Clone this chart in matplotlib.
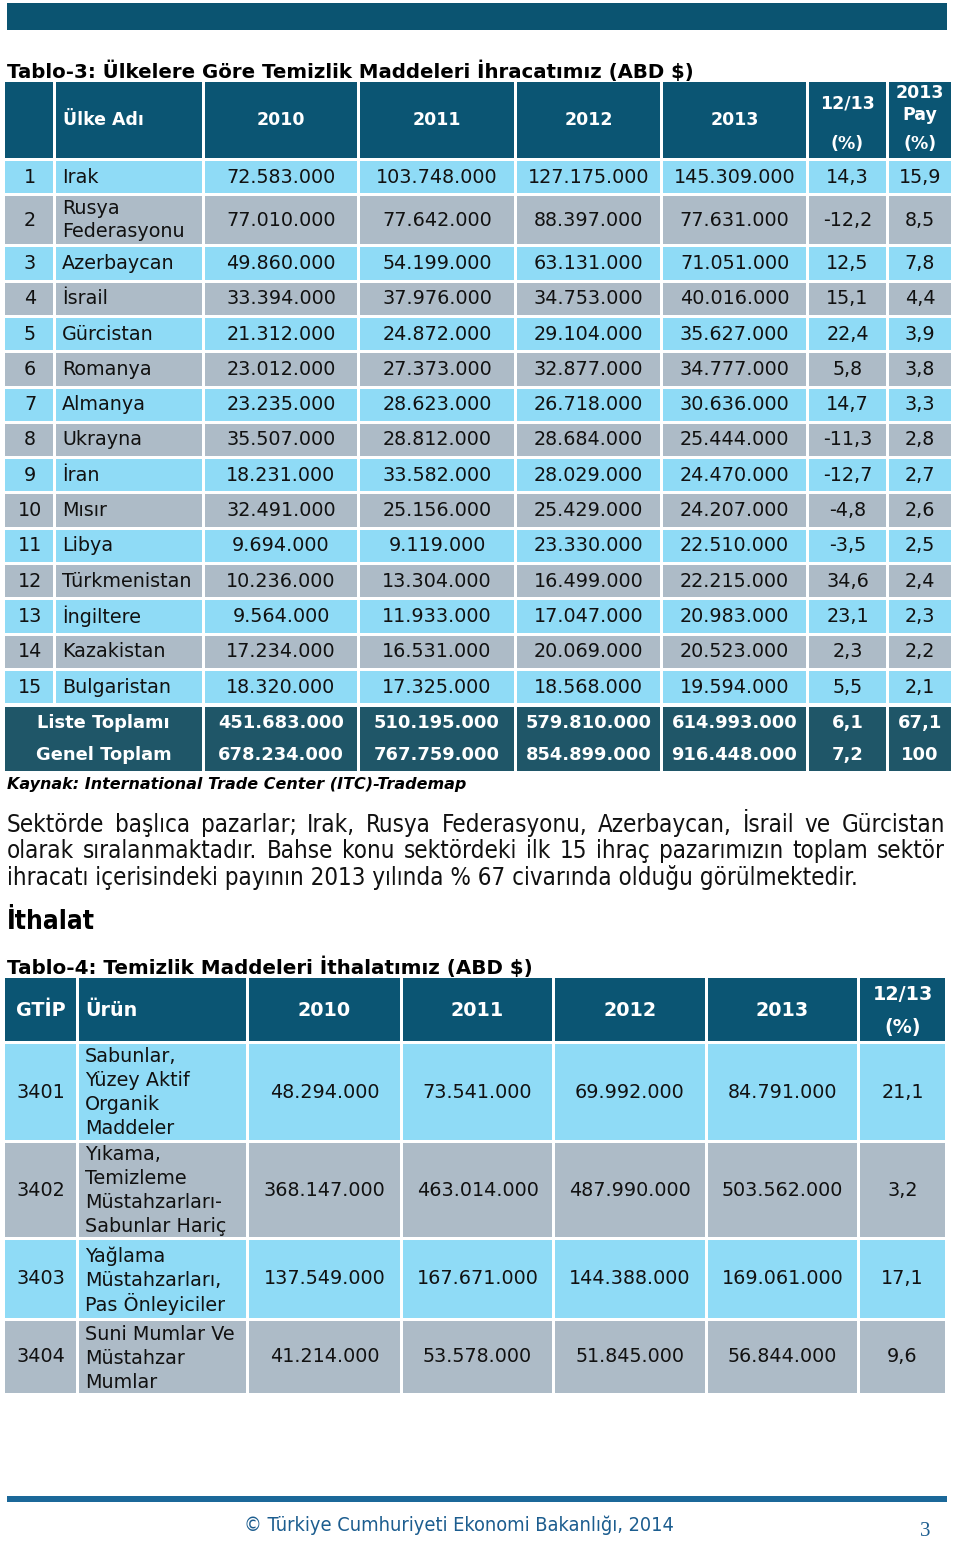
import matplotlib
matplotlib.use("Agg")
import matplotlib.pyplot as plt
from matplotlib import font_manager
from matplotlib.patches import Rectangle

# Tablo-3: ihracat
ranks = list(range(1, 16))
countries = ["Irak", "Rusya\nFederasyonu", "Azerbaycan", "İsrail", "Gürcistan",
             "Romanya", "Almanya", "Ukrayna", "İran", "Mısır", "Libya",
             "Türkmenistan", "İngiltere", "Kazakistan", "Bulgaristan"]
exp_2010 = [72583000, 77010000, 49860000, 33394000, 21312000, 23012000, 23235000,
            35507000, 18231000, 32491000, 9694000, 10236000, 9564000, 17234000, 18320000]
exp_2011 = [103748000, 77642000, 54199000, 37976000, 24872000, 27373000, 28623000,
            28812000, 33582000, 25156000, 9119000, 13304000, 11933000, 16531000, 17325000]
exp_2012 = [127175000, 88397000, 63131000, 34753000, 29104000, 32877000, 26718000,
            28684000, 28029000, 25429000, 23330000, 16499000, 17047000, 20069000, 18568000]
exp_2013 = [145309000, 77631000, 71051000, 40016000, 35627000, 34777000, 30636000,
            25444000, 24470000, 24207000, 22510000, 22215000, 20983000, 20523000, 19594000]
exp_change = [14.3, -12.2, 12.5, 15.1, 22.4, 5.8, 14.7, -11.3, -12.7, -4.8, -3.5, 34.6, 23.1, 2.3, 5.5]
exp_share = [15.9, 8.5, 7.8, 4.4, 3.9, 3.8, 3.3, 2.8, 2.7, 2.6, 2.5, 2.4, 2.3, 2.2, 2.1]

total_labels = ["Liste Toplamı", "Genel Toplam"]
total_2010 = [451683000, 678234000]
total_2011 = [510195000, 767759000]
total_2012 = [579810000, 854899000]
total_2013 = [614993000, 916448000]
total_change = [6.1, 7.2]
total_share = [67.1, 100]

# Tablo-4: ithalat
gtip = ["3401", "3402", "3403", "3404"]
products = ["Sabunlar,\nYüzey Aktif\nOrganik\nMaddeler",
            "Yıkama,\nTemizleme\nMüstahzarları-\nSabunlar Hariç",
            "Yağlama\nMüstahzarları,\nPas Önleyiciler",
            "Suni Mumlar Ve\nMüstahzar\nMumlar"]
imp_2010 = [48294000, 368147000, 137549000, 41214000]
imp_2011 = [73541000, 463014000, 167671000, 53578000]
imp_2012 = [69992000, 487990000, 144388000, 51845000]
imp_2013 = [84791000, 503562000, 169061000, 56844000]
imp_change = [21.1, 3.2, 17.1, 9.6]

years = ["2010", "2011", "2012", "2013"]
paragraph = [
    "Sektörde başlıca pazarlar; Irak, Rusya Federasyonu, Azerbaycan, İsrail ve Gürcistan",
    "olarak sıralanmaktadır. Bahse konu sektördeki ilk 15 ihraç pazarımızın toplam sektör",
    "ihracatı içerisindeki payının 2013 yılında % 67 civarında olduğu görülmektedir.",
]

HEAD = "#0b5573"
TOTAL = "#1f5668"
BLUE = "#8fdbf6"
GRAY = "#adbbc7"
INK = "#111111"
FOOT = "#1c5d8f"


def fmt_num(v):
    return f"{v:,}".replace(",", ".")


def fmt_pct(v):
    if float(v).is_integer():
        return str(int(v))
    return f"{v:.1f}".replace(".", ",")


fig = plt.figure(figsize=(9.6, 15.44), dpi=100)
ax = fig.add_axes([0, 0, 1, 1])
ax.set_xlim(0, 960)
ax.set_ylim(1544, 0)
ax.axis("off")
renderer = fig.canvas.get_renderer()

installed = {(f.name, f.stretch) for f in font_manager.fontManager.ttflist}
names = {n for n, _ in installed}
if ("DejaVu Sans", "condensed") in installed:
    narrow = dict(family="DejaVu Sans", fontstretch="condensed")
else:
    narrow = dict(family="Noto Sans")
foot_font = dict(family="Liberation Sans Narrow") if "Liberation Sans Narrow" in names else narrow


def cell(x0, x1, y0, y1, color):
    ax.add_patch(Rectangle((x0, y0), x1 - x0, y1 - y0, facecolor=color, edgecolor="none"))


def lines(x, yc, text, pitch, ha="center", **kw):
    parts = text.split("\n")
    for i, p in enumerate(parts):
        ax.text(x, yc + (i - (len(parts) - 1) / 2) * pitch, p, ha=ha, va="center", **kw)


def fit_size(text, target, size=12, **kw):
    t = ax.text(0, 0, text, fontsize=size, **kw)
    w = t.get_window_extent(renderer).width
    t.remove()
    return size * target / w


def justify(line, y, x0, x1, **kw):
    words = line.split()
    texts = [ax.text(0, y, w, ha="left", va="center", **kw) for w in words]
    widths = [t.get_window_extent(renderer).width for t in texts]
    gap = (x1 - x0 - sum(widths)) / (len(words) - 1)
    x = x0
    for t, w in zip(texts, widths):
        t.set_x(x)
        x += w + gap


# top band
cell(7, 947, 3, 30, "#0b5471")

# ---------------- Tablo-3 ----------------
title1 = "Tablo-3: Ülkelere Göre Temizlik Maddeleri İhracatımız (ABD $)"
ax.text(7, 71, title1, ha="left", va="center", color="black", fontweight="bold",
        fontsize=fit_size(title1, 685, fontweight="bold"))

c1 = [(5, 53), (56, 202), (205, 357), (360, 514), (517, 660), (663, 806), (809, 886), (889, 951)]
h_top, h_bot = 82, 158
for x0, x1 in c1:
    cell(x0, x1, h_top, h_bot, HEAD)
hkw = dict(color="white", fontweight="bold", fontsize=12.5)
ax.text(63, 120, "Ülke Adı", ha="left", va="center", **hkw)
for (x0, x1), yr in zip(c1[2:6], years):
    ax.text((x0 + x1) / 2, 120, yr, ha="center", va="center", **hkw)
cx6 = sum(c1[6]) / 2
cx7 = sum(c1[7]) / 2
ax.text(cx6, 104, "12/13", ha="center", va="center", **hkw)
ax.text(cx6, 144, "(%)", ha="center", va="center", **hkw)
ax.text(cx7, 93, "2013", ha="center", va="center", **hkw)
ax.text(cx7, 115, "Pay", ha="center", va="center", **hkw)
ax.text(cx7, 144, "(%)", ha="center", va="center", **hkw)

dkw = dict(color=INK, fontsize=13.8)
y = 161
for i in range(len(ranks)):
    h = 48 if "\n" in countries[i] else 32.3
    y0, y1 = y, y + h
    yc = (y0 + y1) / 2
    bg = BLUE if i % 2 == 0 else GRAY
    for x0, x1 in c1:
        cell(x0, x1, y0, y1, bg)
    ax.text(sum(c1[0]) / 2 + 1, yc, str(ranks[i]), ha="center", va="center", **dkw)
    lines(62, yc, countries[i], 23, ha="left", **dkw)
    vals = [fmt_num(exp_2010[i]), fmt_num(exp_2011[i]), fmt_num(exp_2012[i]),
            fmt_num(exp_2013[i]), fmt_pct(exp_change[i]), fmt_pct(exp_share[i])]
    for (x0, x1), v in zip(c1[2:], vals):
        ax.text((x0 + x1) / 2, yc, v, ha="center", va="center", **dkw)
    y = y1 + 3

t_top, t_bot = y + 1, 771
cell(c1[0][0], c1[1][1], t_top, t_bot, TOTAL)
for x0, x1 in c1[2:]:
    cell(x0, x1, t_top, t_bot, TOTAL)
tkw = dict(color="white", fontweight="bold", fontsize=12.9)
for j, yc in enumerate([t_top + 15.5, t_top + 47.5]):
    ax.text((c1[0][0] + c1[1][1]) / 2, yc, total_labels[j], ha="center", va="center", **tkw)
    vals = [fmt_num(total_2010[j]), fmt_num(total_2011[j]), fmt_num(total_2012[j]),
            fmt_num(total_2013[j]), fmt_pct(total_change[j]), fmt_pct(total_share[j])]
    for (x0, x1), v in zip(c1[2:], vals):
        ax.text((x0 + x1) / 2, yc, v, ha="center", va="center", **tkw)

src = "Kaynak: International Trade Center (ITC)-Trademap"
ax.text(7, 784, src, ha="left", va="center", color="black", fontweight="bold", fontstyle="italic",
        fontsize=fit_size(src, 458, fontweight="bold", fontstyle="italic"))

# paragraph
psize = fit_size(paragraph[2], 848, **narrow)
pkw = dict(color=INK, fontsize=psize, **narrow)
justify(paragraph[0], 825, 7, 945, **pkw)
justify(paragraph[1], 851, 7, 945, **pkw)
ax.text(7, 877, paragraph[2], ha="left", va="center", **pkw)

ax.text(7, 922, "İthalat", ha="left", va="center", color="black", fontweight="bold",
        fontsize=fit_size("İthalat", 88, fontweight="bold", **narrow), **narrow)

# ---------------- Tablo-4 ----------------
title2 = "Tablo-4: Temizlik Maddeleri İthalatımız (ABD $)"
ax.text(7, 967, title2, ha="left", va="center", color="black", fontweight="bold",
        fontsize=fit_size(title2, 524, fontweight="bold"))

c2 = [(5, 76), (79, 246), (249, 400), (403, 552), (555, 705), (708, 857), (860, 945)]
r2 = [(1044, 1140), (1143, 1237), (1240, 1318), (1321, 1393)]
for x0, x1 in c2:
    cell(x0, x1, 978, 1041, HEAD)
h2kw = dict(color="white", fontweight="bold", fontsize=13.8)
ax.text(sum(c2[0]) / 2, 1010, "GTİP", ha="center", va="center", **h2kw)
ax.text(85, 1010, "Ürün", ha="left", va="center", **h2kw)
for (x0, x1), yr in zip(c2[2:6], years):
    ax.text((x0 + x1) / 2, 1010, yr, ha="center", va="center", **h2kw)
ax.text(sum(c2[6]) / 2, 994, "12/13", ha="center", va="center", **h2kw)
ax.text(sum(c2[6]) / 2, 1027, "(%)", ha="center", va="center", **h2kw)

for i, (y0, y1) in enumerate(r2):
    yc = (y0 + y1) / 2
    bg = BLUE if i % 2 == 0 else GRAY
    for x0, x1 in c2:
        cell(x0, x1, y0, y1, bg)
    ax.text(sum(c2[0]) / 2, yc, gtip[i], ha="center", va="center", **dkw)
    lines(85, yc + 1, products[i], 24, ha="left", **dkw)
    vals = [fmt_num(imp_2010[i]), fmt_num(imp_2011[i]), fmt_num(imp_2012[i]),
            fmt_num(imp_2013[i]), fmt_pct(imp_change[i])]
    for (x0, x1), v in zip(c2[2:], vals):
        ax.text((x0 + x1) / 2, yc, v, ha="center", va="center", **dkw)

# footer
cell(7, 947, 1496, 1502, "#1b6899")
foot = "© Türkiye Cumhuriyeti Ekonomi Bakanlığı, 2014"
ax.text(459, 1525, foot, ha="center", va="center", color=FOOT,
        fontsize=fit_size(foot, 428, **foot_font), **foot_font)
ax.text(925, 1531, "3", ha="center", va="center", color=FOOT, fontsize=15, family="Liberation Serif")

fig.savefig("out.png", dpi=100)
